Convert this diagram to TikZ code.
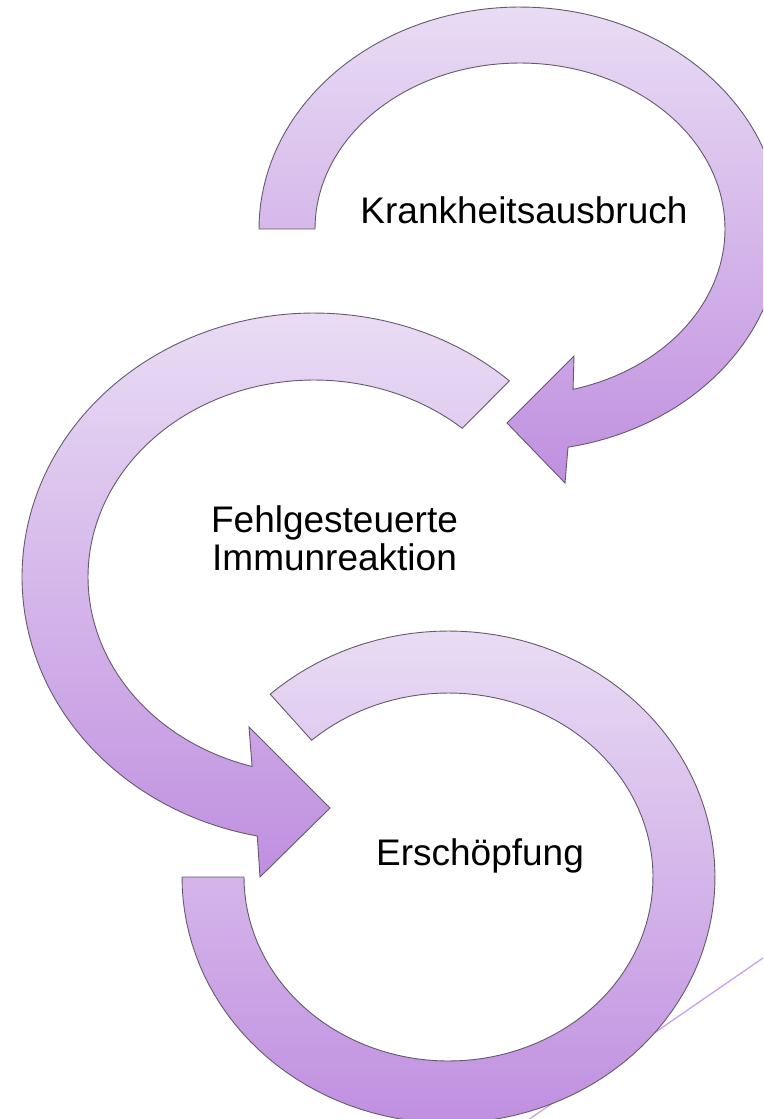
\documentclass[tikz,border=0pt]{standalone}
\usepackage{fontspec}
\setmainfont{Liberation Sans}
\definecolor{ringtop}{RGB}{233,220,244}
\definecolor{ringbot}{RGB}{192,143,224}
\definecolor{ringline}{RGB}{100,90,108}
\definecolor{accentline}{RGB}{200,160,235}
\tikzset{
  ring/.style={top color=ringtop, bottom color=ringbot, draw=ringline, line width=0.9pt, line join=miter},
  label/.style={inner sep=0pt, font=\fontsize{37}{38}\selectfont, text=black}
}
\begin{document}
\begin{tikzpicture}[x=1pt, y=-1pt]
\useasboundingbox (0,0) rectangle (763,1119);
\clip (0,0) rectangle (763,1119);
% thin accent line behind the bottom ring
\coordinate (la) at (763,958);
\coordinate (lb) at (528,1120);
\draw[accentline, line width=1.3pt] (la) -- (lb);
% bottom ring (Erschoepfung)
\path[ring] plot[domain=228:540, samples=120, variable=\t] ({448.5+266.5*cos(\t)},{877+246*sin(\t)})
  -- plot[domain=540:228, samples=120, variable=\t] ({448.5+204.5*cos(\t)},{877+184*sin(\t)}) -- cycle;
% middle ring (Fehlgesteuerte Immunreaktion)
\path[ring] plot[domain=312:101.2, samples=120, variable=\t] ({314+292*cos(\t)},{577+264*sin(\t)})
  -- (260,877) -- (330,808) -- (249,727)
  -- plot[domain=105.9:311, samples=120, variable=\t] ({314+226*cos(\t)},{577+197*sin(\t)}) -- cycle;
% top ring (Krankheitsausbruch)
\path[ring] plot[domain=180:439.4, samples=120, variable=\t] ({520+261*cos(\t)},{229+222*sin(\t)})
  -- (565,483) -- (507,423) -- (574,356)
  -- plot[domain=435:180, samples=120, variable=\t] ({520+205*cos(\t)},{229+166*sin(\t)}) -- cycle;
% labels
\node[label, anchor=base] (krank) at (524,223) {Krankheitsausbruch};
\node[label, anchor=base, align=center] (immun) at (334.5,570) {Fehlgesteuerte\\Immunreaktion};
\node[label, anchor=base] (ersch) at (480,865) {Erschöpfung};
\end{tikzpicture}
\end{document}
